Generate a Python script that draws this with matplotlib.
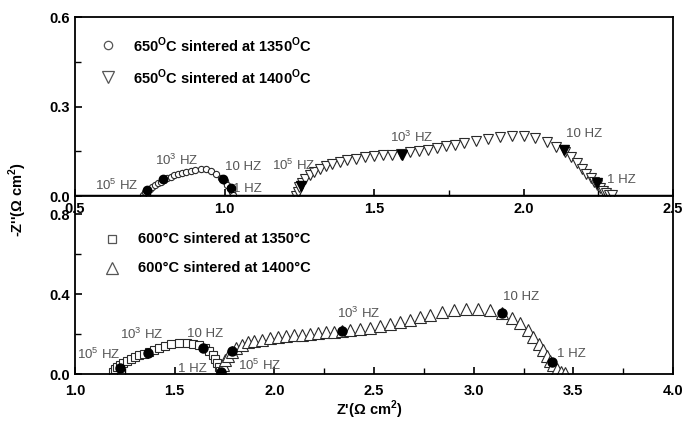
import numpy as np
import matplotlib
matplotlib.use('Agg')
import matplotlib.pyplot as plt
from matplotlib.ticker import MultipleLocator

plt.rcParams['font.family'] = ['Liberation Sans', 'DejaVu Sans']
plt.rcParams['mathtext.fontset'] = 'custom'
plt.rcParams['mathtext.rm'] = 'Liberation Sans'
plt.rcParams['mathtext.bf'] = 'Liberation Sans:bold'

# 650 C, sintered at 1350 C (circles)
c650_x = [0.728, 0.735, 0.742, 0.75, 0.758, 0.767, 0.776, 0.786, 0.797, 0.808, 0.82, 0.832,
          0.845, 0.858, 0.872, 0.887, 0.903, 0.92, 0.937, 0.955, 0.972, 0.988, 1.0, 1.01,
          1.018, 1.024, 1.028]
c650_y = [0.005, 0.012, 0.018, 0.024, 0.03, 0.036, 0.042, 0.048, 0.054, 0.06, 0.065, 0.07,
          0.074, 0.078, 0.082, 0.085, 0.088, 0.09, 0.09, 0.085, 0.075, 0.062, 0.05, 0.038,
          0.026, 0.015, 0.005]
c650_fx = [0.74, 0.795, 0.995, 1.022]
c650_fy = [0.02, 0.058, 0.056, 0.027]

# 650 C, sintered at 1400 C (down triangles)
t650_x = [1.24, 1.245, 1.25, 1.26, 1.27, 1.285, 1.30, 1.32, 1.34, 1.36, 1.385, 1.41, 1.44,
          1.47, 1.50, 1.53, 1.56, 1.59, 1.62, 1.65, 1.68, 1.71, 1.74, 1.77, 1.80, 1.84, 1.88,
          1.92, 1.96, 2.0, 2.04, 2.08, 2.11, 2.14, 2.16, 2.18, 2.195, 2.21, 2.225, 2.235,
          2.245, 2.255, 2.265, 2.275, 2.285, 2.295]
t650_y = [0.0, 0.015, 0.03, 0.045, 0.058, 0.07, 0.08, 0.09, 0.1, 0.108, 0.115, 0.12, 0.125,
          0.13, 0.133, 0.136, 0.139, 0.142, 0.146, 0.15, 0.155, 0.16, 0.166, 0.172, 0.178,
          0.185, 0.192, 0.198, 0.2, 0.2, 0.195, 0.18, 0.165, 0.148, 0.13, 0.11, 0.092, 0.075,
          0.06, 0.048, 0.038, 0.028, 0.018, 0.01, 0.005, 0.002]
t650_fx = [1.255, 1.595, 2.135, 2.245]
t650_fy = [0.035, 0.138, 0.153, 0.045]

# 600 C, sintered at 1350 C (squares)
s600_x = [1.19, 1.2, 1.21, 1.225, 1.24, 1.26, 1.28, 1.30, 1.32, 1.345, 1.37, 1.395, 1.42,
          1.45, 1.48, 1.52, 1.56, 1.59, 1.62, 1.65, 1.67, 1.69, 1.70, 1.71, 1.72, 1.725]
s600_y = [0.01, 0.025, 0.035, 0.045, 0.055, 0.065, 0.075, 0.085, 0.093, 0.102, 0.11, 0.12,
          0.13, 0.14, 0.148, 0.153, 0.155, 0.152, 0.145, 0.13, 0.115, 0.095, 0.075, 0.055,
          0.035, 0.015]
s600_fx = [1.225, 1.367, 1.64, 1.73]
s600_fy = [0.03, 0.105, 0.13, 0.012]

# 600 C, sintered at 1400 C (up triangles)
t600_x = [1.72, 1.73, 1.74, 1.755, 1.77, 1.79, 1.81, 1.84, 1.87, 1.90, 1.94, 1.98, 2.02,
          2.06, 2.10, 2.14, 2.18, 2.22, 2.26, 2.30, 2.34, 2.38, 2.43, 2.48, 2.53, 2.58, 2.63,
          2.68, 2.73, 2.78, 2.84, 2.90, 2.96, 3.02, 3.08, 3.14, 3.19, 3.23, 3.27, 3.30, 3.33,
          3.35, 3.37, 3.385, 3.40, 3.42, 3.44, 3.46]
t600_y = [0.0, 0.02, 0.045, 0.07, 0.09, 0.11, 0.13, 0.145, 0.158, 0.165, 0.172, 0.178,
          0.183, 0.188, 0.193, 0.197, 0.2, 0.205, 0.208, 0.212, 0.215, 0.22, 0.225, 0.232,
          0.24, 0.25, 0.26, 0.272, 0.285, 0.297, 0.31, 0.32, 0.325, 0.325, 0.32, 0.305, 0.28,
          0.255, 0.22, 0.185, 0.15, 0.12, 0.09, 0.065, 0.045, 0.025, 0.01, 0.005]
t600_fx = [1.79, 2.34, 3.14, 3.395]
t600_fy = [0.115, 0.215, 0.305, 0.06]

# frequency labels (text, x, y)
top_labels = [("10$^{5}$ HZ", 0.567, 0.02), ("10$^{3}$ HZ", 0.768, 0.104),
              ("10 HZ", 1.0, 0.087), ("1 HZ", 1.03, 0.013),
              ("10$^{5}$ HZ", 1.159, 0.087), ("10$^{3}$ HZ", 1.553, 0.18),
              ("10 HZ", 2.142, 0.198), ("1 HZ", 2.28, 0.044)]
bot_labels = [("10$^{5}$ HZ", 1.01, 0.075), ("10$^{3}$ HZ", 1.226, 0.175),
              ("10 HZ", 1.56, 0.185), ("1 HZ", 1.517, 0.01),
              ("10$^{5}$ HZ", 1.818, 0.02), ("10$^{3}$ HZ", 2.315, 0.28),
              ("10 HZ", 3.148, 0.37), ("1 HZ", 3.42, 0.085)]

lab_color = '#555555'
edge = '#2a2a2a'

fig = plt.figure(figsize=(6.83, 4.25), dpi=100)
ax2 = fig.add_axes([0.1098, 0.12, 0.8756, 0.4188])
ax1 = fig.add_axes([0.1098, 0.5388, 0.8756, 0.4212])
ax2.patch.set_visible(False)
ax1.set_zorder(3)

# top panel
ax1.plot(c650_x, c650_y, 'o', ms=4.5, mfc='white', mec=edge, mew=0.8, ls='none')
ax1.plot(t650_x, t650_y, 'v', ms=7, mfc='white', mec=edge, mew=0.8, ls='none')
ax1.plot(c650_fx, c650_fy, 'o', ms=6, color='black', ls='none')
ax1.plot(t650_fx, t650_fy, 'v', ms=7, color='black', ls='none')
ax1.axhline(0, color='black', lw=2.5, zorder=3)
ax1.set_xlim(0.5, 2.5)
ax1.set_ylim(0, 0.6)
ax1.xaxis.set_major_locator(MultipleLocator(0.5))
ax1.xaxis.set_minor_locator(MultipleLocator(0.25))
ax1.yaxis.set_major_locator(MultipleLocator(0.3))
ax1.yaxis.set_minor_locator(MultipleLocator(0.15))
for t, x, y in top_labels:
    ax1.text(x, y, t, color=lab_color, fontsize=9.5, ha='left', va='baseline')

# bottom panel
ax2.plot(s600_x, s600_y, 's', ms=5.5, mfc='white', mec=edge, mew=0.8, ls='none')
ax2.plot(t600_x, t600_y, '^', ms=8, mfc='white', mec=edge, mew=0.8, ls='none')
ax2.plot(s600_fx + t600_fx, s600_fy + t600_fy, 'o', ms=6.5, color='black', ls='none')
ax2.set_xlim(1.0, 4.0)
ax2.set_ylim(0, 0.89)
ax2.xaxis.set_major_locator(MultipleLocator(0.5))
ax2.xaxis.set_minor_locator(MultipleLocator(0.25))
ax2.yaxis.set_minor_locator(MultipleLocator(0.2))
ax2.set_yticks([0.0, 0.4, 0.8])
ax2.spines['top'].set_visible(False)
for t, x, y in bot_labels:
    ax2.text(x, y, t, color=lab_color, fontsize=9.5, ha='left', va='baseline')

for ax in (ax1, ax2):
    ax.tick_params(which='both', direction='in', labelsize=10.5)
    ax.tick_params(which='major', length=5, width=1.2)
    ax.tick_params(which='minor', length=4, width=1.0)
    for s in ax.spines.values():
        s.set_linewidth(1.3)
    for lbl in ax.get_xticklabels() + ax.get_yticklabels():
        lbl.set_fontweight('bold')
ax2.tick_params(axis='x', pad=7)
ax1.tick_params(axis='x', pad=4)

# legends drawn by hand
ax1.plot([0.055], [0.844], 'o', ms=6, mfc='white', mec='#555', mew=0.9, transform=ax1.transAxes)
ax1.plot([0.055], [0.665], 'v', ms=8, mfc='white', mec='#555', mew=0.9, transform=ax1.transAxes)
ax1.text(0.097, 0.844, r"650$^{\mathbf{O}}$C sintered at 1350$^{\mathbf{O}}$C",
         transform=ax1.transAxes, fontsize=10.5, fontweight='bold', va='center')
ax1.text(0.097, 0.665, r"650$^{\mathbf{O}}$C sintered at 1400$^{\mathbf{O}}$C",
         transform=ax1.transAxes, fontsize=10.5, fontweight='bold', va='center')
ax2.plot([0.062], [0.758], 's', ms=6, mfc='white', mec='#555', mew=0.9, transform=ax2.transAxes)
ax2.plot([0.062], [0.596], '^', ms=8, mfc='white', mec='#555', mew=0.9, transform=ax2.transAxes)
ax2.text(0.105, 0.758, "600°C sintered at 1350°C", transform=ax2.transAxes,
         fontsize=10.5, fontweight='bold', va='center')
ax2.text(0.105, 0.596, "600°C sintered at 1400°C", transform=ax2.transAxes,
         fontsize=10.5, fontweight='bold', va='center')

fig.text(0.026, 0.53, r"-Z''($\mathbf{\Omega}$ cm$^{\mathbf{2}}$)", rotation=90,
         ha='center', va='center', fontsize=10.5, fontweight='bold')
fig.text(0.54, 0.035, r"Z'($\mathbf{\Omega}$ cm$^{\mathbf{2}}$)",
         ha='center', va='center', fontsize=10.5, fontweight='bold')

fig.savefig('out.png', dpi=100)
